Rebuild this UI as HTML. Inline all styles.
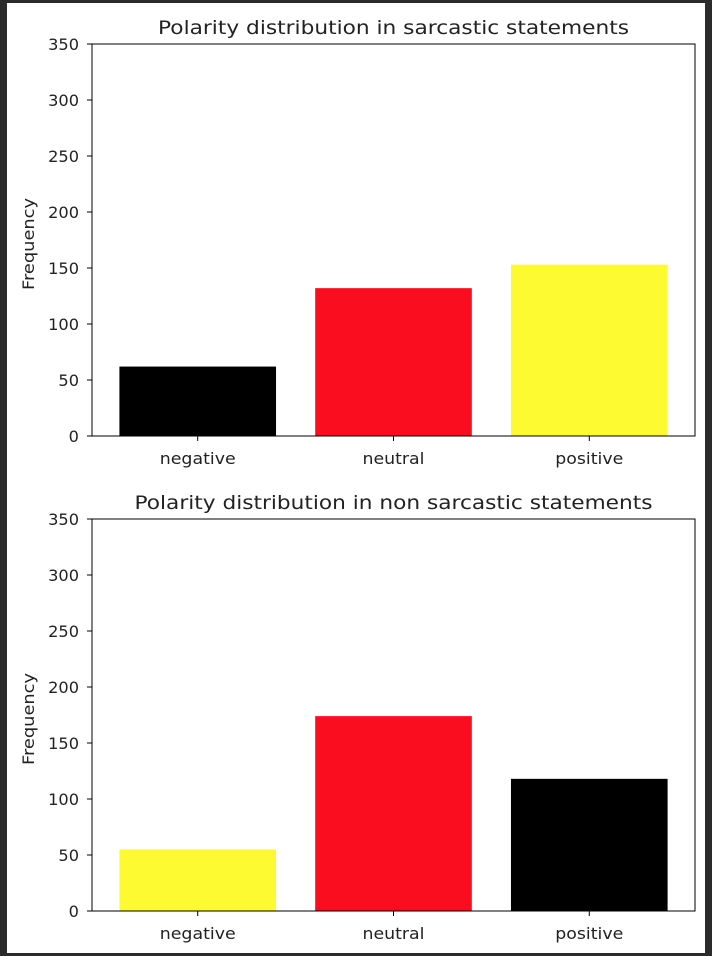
<!DOCTYPE html>
<html><head><meta charset="utf-8"><style>
html,body{margin:0;padding:0;background:#2b2b2b;}
svg{display:block;font-family:"DejaVu Sans","Liberation Sans",sans-serif;}
</style></head><body>
<svg id="chart" width="712" height="956">
<rect x="7" y="3" width="698" height="950" fill="#fff"/>
</svg>
<script>
const categories = ["negative","neutral","positive"];
const sarcasticValues = [62,132,153];
const nonSarcasticValues = [55,174,118];
const sarcasticColors = ["#000000","#f90d1e","#fefa32"];
const nonSarcasticColors = ["#fefa32","#f90d1e","#000000"];
const yTicks = [0,50,100,150,200,250,300,350];
const titles = ["Polarity distribution in sarcastic statements","Polarity distribution in non sarcastic statements"];
const catWidths = [76,62,68];
const titleWidths = [471,518];

const NS="http://www.w3.org/2000/svg";
const svg=document.getElementById('chart');
function mk(tag,attrs,parent){const e=document.createElementNS(NS,tag);for(const k in attrs)e.setAttribute(k,attrs[k]);(parent||svg).appendChild(e);return e;}

function drawPanel(top,values,colors,title,idx){
  const L=92,R=695,T=top,B=top+392;
  const g=mk('g',{});
  
  
  const yMax=350;
  const y=v=>B-(v/yMax)*(B-T);
  const xMin=-0.54,xMax=2.54;
  const x=v=>L+(v-xMin)/(xMax-xMin)*(R-L);
  values.forEach((v,i)=>{
    const r=mk('rect',{x:x(i-0.4),y:y(v),width:x(i+0.4)-x(i-0.4),height:B-y(v),fill:colors[i]},g);
    
    
  });
  const frame=mk('rect',{x:L,y:T,width:R-L,height:B-T,fill:'none',stroke:'#000','stroke-width':1},g);
  
  
  yTicks.forEach(t=>{
    mk('line',{x1:L-5,x2:L,y1:y(t),y2:y(t),stroke:'#000'},g);
    const tx=mk('text',{x:L-13,y:y(t)+6,'text-anchor':'end','font-size':16,fill:'#222',textLength:String(t).length*10.3,lengthAdjust:'spacingAndGlyphs'},g);
    tx.textContent=t;
    
    
  });
  categories.forEach((c,i)=>{
    mk('line',{x1:x(i),x2:x(i),y1:B,y2:B+5,stroke:'#000'},g);
    const tx=mk('text',{x:x(i),y:B+28,'text-anchor':'middle','font-size':16,fill:'#222',textLength:catWidths[i],lengthAdjust:'spacingAndGlyphs'},g);
    tx.textContent=c;
    
    
  });
  const yl=mk('text',{transform:`translate(34,${(T+B)/2+4}) rotate(-90)`,'text-anchor':'middle','font-size':16,fill:'#222',textLength:92,lengthAdjust:'spacingAndGlyphs'},g);
  yl.textContent='Frequency';
  
  
  const tt=mk('text',{x:(L+R)/2,y:T-10,'text-anchor':'middle','font-size':19,fill:'#222',textLength:titleWidths[idx],lengthAdjust:'spacingAndGlyphs'},g);
  tt.textContent=title;
  
  
}
drawPanel(44,sarcasticValues,sarcasticColors,titles[0],0);
drawPanel(519,nonSarcasticValues,nonSarcasticColors,titles[1],1);
</script>
</body></html>
